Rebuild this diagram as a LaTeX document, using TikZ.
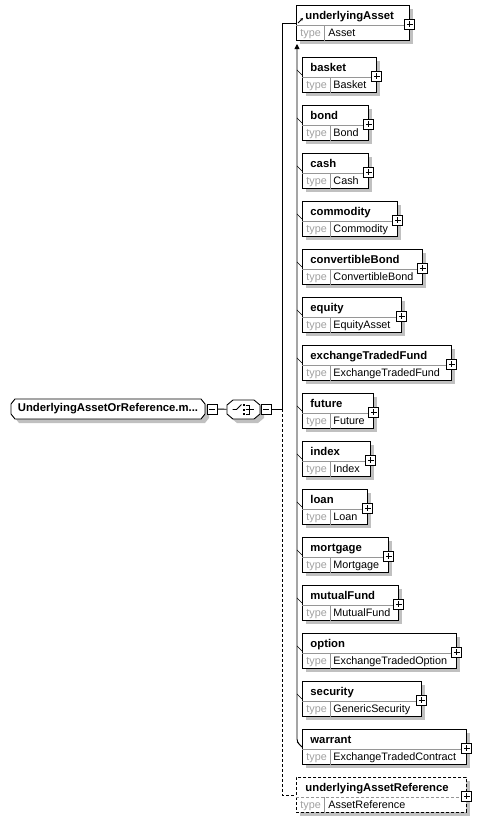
\documentclass[tikz,border=0pt]{standalone}
\usepackage{fontspec}
\setmainfont{Liberation Sans}
\usetikzlibrary{arrows.meta,positioning,calc,shadows}
\definecolor{shadowgray}{RGB}{192,192,192}
\definecolor{typegray}{RGB}{160,160,160}
\definecolor{linegray}{RGB}{150,150,150}

\begin{document}
\begin{tikzpicture}[x=1pt, y=-1pt, line width=0.9pt,
  font=\fontsize{10.8}{13}\selectfont,
  elembox/.style={draw, fill=white, anchor=north west, minimum height=35pt, inner sep=0pt,
    general shadow={fill=shadowgray, shadow xshift=4pt, shadow yshift=-4pt}},
  refbox/.style={elembox, dash pattern=on 3pt off 2pt},
  namelbl/.style={anchor=base west, inner sep=0pt, font=\fontsize{11.3}{13}\selectfont\bfseries},
  typelbl/.style={anchor=base west, inner sep=0pt, text=typegray},
  typeval/.style={anchor=base west, inner sep=0pt},
  cellline/.style={draw=linegray, line width=0.8pt},
  plusbox/.style={draw, fill=white, minimum size=10pt, inner sep=0pt, line width=1pt,
    path picture={\draw[line width=1pt] ([xshift=2pt]path picture bounding box.west) -- ([xshift=-2pt]path picture bounding box.east)
      ([yshift=-2pt]path picture bounding box.north) -- ([yshift=2pt]path picture bounding box.south);}},
  minusbox/.style={draw, fill=white, minimum size=10pt, inner sep=0pt, line width=1pt,
    path picture={\draw[line width=1pt] ([xshift=2pt]path picture bounding box.west) -- ([xshift=-2pt]path picture bounding box.east);}},
  rootbox/.style={minimum width=194pt, minimum height=20pt, inner sep=0pt, font=\fontsize{11.3}{13}\selectfont\bfseries},
  compbox/.style={minimum width=33pt, minimum height=19pt, inner sep=0pt},
  link/.style={draw},
  optlink/.style={draw, dash pattern=on 3pt off 2pt}
]
\useasboundingbox (0,0) rectangle (480,822);

% octagon outlines of root and compositor
\fill[shadowgray] (19,403) -- (205,403) -- (209,408) -- (209,418) -- (205,423) -- (19,423) -- (15,418) -- (15,408) -- cycle;
\filldraw[fill=white] (15,399) -- (201,399) -- (205,404) -- (205,414) -- (201,419) -- (15,419) -- (11,414) -- (11,404) -- cycle;
\fill[shadowgray] (237,404) -- (258,404) -- (264,409) -- (264,418) -- (258,423) -- (237,423) -- (231,418) -- (231,409) -- cycle;
\filldraw[fill=white] (233,400) -- (254,400) -- (260,405) -- (260,414) -- (254,419) -- (233,419) -- (227,414) -- (227,405) -- cycle;

% root and choice compositor
\node[rootbox] (root) at (108,409) {UnderlyingAssetOrReference.m...};
\node[minusbox] (rootminus) at (212,409) {};
\node[compbox] (choice) at (243.5,409.5) {};
\node[minusbox] (choiceminus) at (266,409) {};
\coordinate (branch) at (282,409);

% choice icon
\draw (choice.center) ++(-11,0) -- ++(4,0) -- ++(5,-5);
\foreach \dy in {-4.5,0,4.5} {
  \fill ($(choice.center)+(0,\dy)+(-1,-1)$) rectangle ++(2,2);
  \draw ($(choice.center)+(2,\dy)$) -- ++(4,0);
}
\draw ($(choice.center)+(6,-4.5)$) -- ++(0,9);
\draw ($(choice.center)+(6,0)$) -- ++(4,0);

\draw[link] (rootminus) -- (choice);
\draw[link] (choiceminus) -- (branch);

% underlyingAsset (substitution group head)
\node[elembox, minimum width=113pt] (uAsset) at (296,5) {};
\draw[cellline] ([yshift=-20pt]uAsset.north west) -- ([yshift=-20pt]uAsset.north east);
\draw[cellline] ([shift={(28,20)}]uAsset.north west) -- ([xshift=28pt]uAsset.south west);
\draw[-{Stealth[length=3pt,width=3pt]}, line width=0.8pt] ([shift={(2,18)}]uAsset.north west) -- ++(5,-5);
\node[namelbl] (uAsset-lbl) at ([shift={(9,14)}]uAsset.north west) {underlyingAsset};
\node[typelbl] (uAsset-tl) at ([shift={(4,31)}]uAsset.north west) {type};
\node[typeval] (uAsset-tv) at ([shift={(32,31)}]uAsset.north west) {Asset};
\node[plusbox] (uAsset-plus) at ([yshift=-19pt]uAsset.north east) {};

% substitution group members
\foreach \name/\type/\w [count=\i from 0] in {basket/Basket/74, bond/Bond/66, cash/Cash/66,
    commodity/Commodity/95, convertibleBond/ConvertibleBond/120, equity/EquityAsset/99,
    exchangeTradedFund/ExchangeTradedFund/149, future/Future/71, index/Index/68, loan/Loan/65,
    mortgage/Mortgage/86, mutualFund/MutualFund/96, option/ExchangeTradedOption/154,
    security/GenericSecurity/119, warrant/ExchangeTradedContract/164} {
  \node[elembox, minimum width=\w pt] (\name) at (302,{57+48*\i}) {};
  \draw[cellline] ([yshift=-20pt]\name.north west) -- ([yshift=-20pt]\name.north east);
  \draw[cellline] ([shift={(28,20)}]\name.north west) -- ([xshift=28pt]\name.south west);
  \node[namelbl] (\name-lbl) at ([shift={(8,14)}]\name.north west) {\name};
  \node[typelbl] (\name-tl) at ([shift={(4,31)}]\name.north west) {type};
  \node[typeval] (\name-tv) at ([shift={(31,31)}]\name.north west) {\type};
  \node[plusbox] (\name-plus) at ([yshift=-19pt]\name.north east) {};
  \draw[link, line width=0.6pt] (\name.west) ++(-5,-5) -- (\name.west);
}

% underlyingAssetReference
\node[refbox, minimum width=170pt] (uRef) at (296,777) {};
\draw[cellline, dash pattern=on 3pt off 2pt] ([yshift=-20pt]uRef.north west) -- ([yshift=-20pt]uRef.north east);
\draw[cellline] ([shift={(28,20)}]uRef.north west) -- ([xshift=28pt]uRef.south west);
\node[namelbl] (uRef-lbl) at ([shift={(9,14)}]uRef.north west) {underlyingAssetReference};
\node[typelbl] (uRef-tl) at ([shift={(4,31)}]uRef.north west) {type};
\node[typeval] (uRef-tv) at ([shift={(32,31)}]uRef.north west) {AssetReference};
\node[plusbox] (uRef-plus) at ([yshift=-19pt]uRef.north east) {};

% connectors
\coordinate (subtop) at (297,44);
\draw[link] (branch) |- (uAsset.west);
\draw[optlink] (branch) |- (uRef.west);
\draw[link, rounded corners=3pt, {Triangle[length=5pt,width=5pt]}-] (subtop) -- ($(warrant.west)+(-5,-5)$) -- (warrant.west);
\end{tikzpicture}
\end{document}
